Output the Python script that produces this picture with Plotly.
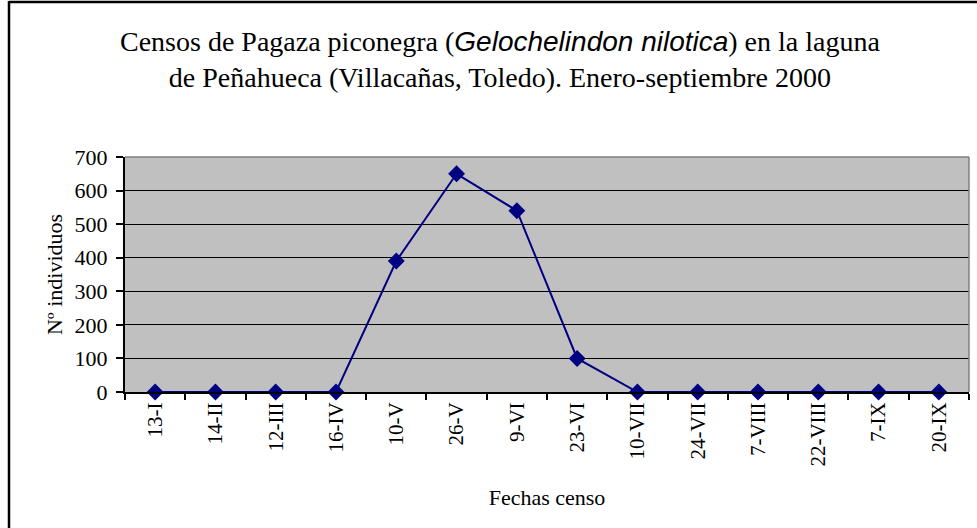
import plotly.graph_objects as go

fechas = ["13-I", "14-II", "12-III", "16-IV", "10-V", "26-V", "9-VI", "23-VI",
          "10-VII", "24-VII", "7-VIII", "22-VIII", "7-IX", "20-IX"]
individuos = [0, 0, 0, 0, 390, 650, 540, 100, 0, 0, 0, 0, 0, 0]
y_ticks = [0, 100, 200, 300, 400, 500, 600, 700]

W, H = 977, 528
ML, MR, MT, MB = 125, 8, 157, 136
PW = W - ML - MR
PH = H - MT - MB

def px(x):
    return (x - ML) / PW

def py(y):
    return (H - MB - y) / PH

serif = "Liberation Serif"

title_text = (
    '<span style="font-family:Liberation Serif">Censos de Pagaza piconegra (</span>'
    '<span style="font-family:Liberation Sans;font-style:italic">Gelochelindon nilotica</span>'
    '<span style="font-family:Liberation Serif">) en la laguna</span><br>'
    '<span style="font-family:Liberation Serif">de Peñahueca (Villacañas, Toledo). Enero-septiembre 2000</span>'
)

fig = go.Figure()
fig.add_trace(go.Scatter(
    x=fechas, y=individuos, mode="lines+markers",
    line=dict(color="#000080", width=2),
    marker=dict(symbol="diamond", size=13, color="#000080"),
    cliponaxis=False, showlegend=False,
))

fig.update_layout(
    width=W, height=H,
    margin=dict(l=ML, r=MR, t=MT, b=MB, pad=0),
    paper_bgcolor="white", plot_bgcolor="#C0C0C0",
    font=dict(family=serif, color="black", size=20),
    xaxis=dict(
        type="category", range=[-0.5, 13.5], tickangle=-90,
        tickson="boundaries", ticks="outside", ticklen=6, tickwidth=1.5,
        tickcolor="black", showline=True, linecolor="black", linewidth=2,
        showgrid=False, tickfont=dict(size=21, family=serif),
        title=dict(text="Fechas censo", font=dict(size=22, family=serif), standoff=24),
    ),
    yaxis=dict(
        range=[0, 700], tickvals=y_ticks, ticks="outside", ticklen=7, tickwidth=1.5,
        tickcolor="black", showline=True, linecolor="black", linewidth=2,
        showgrid=True, gridcolor="black", gridwidth=1.3, zeroline=False,
        tickfont=dict(size=22, family=serif), ticklabelstandoff=4,
        title=dict(text="Nº individuos", font=dict(size=22, family=serif), standoff=6),
    ),
    shapes=[
        dict(type="line", xref="paper", yref="paper", x0=0, x1=1, y0=1, y1=1,
             line=dict(color="#808080", width=1.5)),
        dict(type="line", xref="paper", yref="paper", x0=1, x1=1, y0=0, y1=1,
             line=dict(color="#808080", width=1.5)),
        dict(type="line", xref="paper", yref="paper", x0=px(9), x1=px(9), y0=py(1), y1=py(H + 5),
             line=dict(color="black", width=2.5)),
        dict(type="line", xref="paper", yref="paper", x0=px(9), x1=px(W + 5), y0=py(2), y1=py(2),
             line=dict(color="black", width=2.5)),
    ],
    annotations=[
        dict(
            text=title_text,
            xref="paper", yref="paper", x=px(500), y=py(59), xanchor="center", yanchor="middle",
            showarrow=False, font=dict(size=28, family=serif), align="center",
        )
    ],
)

fig.write_html(
    "out.html",
    config={"displayModeBar": False},
    post_script="document.body.style.margin='0';document.body.style.overflow='hidden';",
)
